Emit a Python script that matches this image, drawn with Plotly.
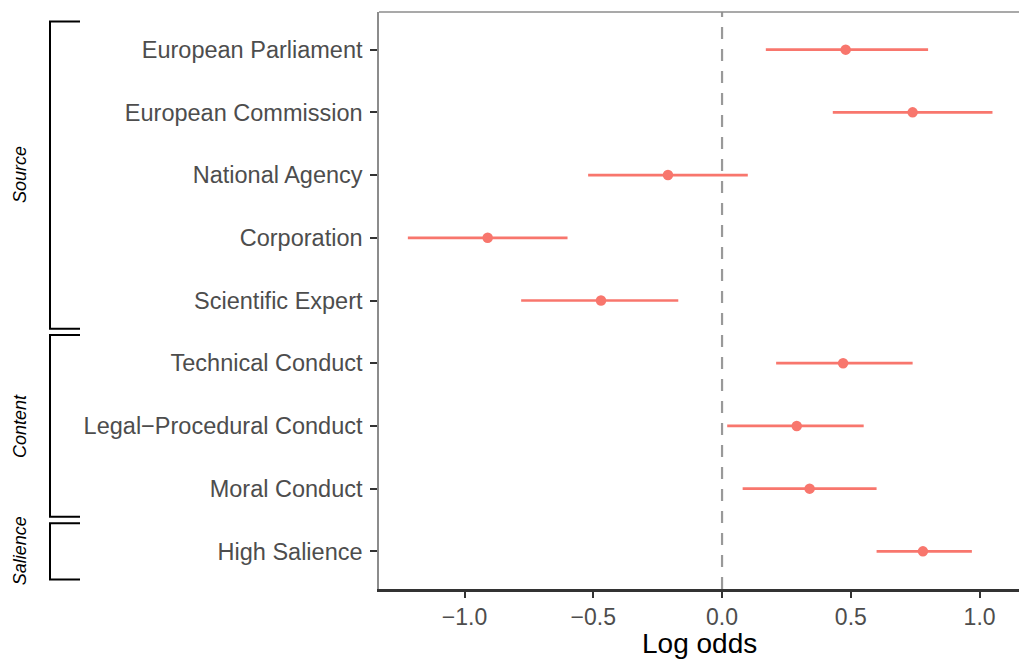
import plotly.graph_objects as go

# Predictors, listed top to bottom
labels = [
    "European Parliament",
    "European Commission",
    "National Agency",
    "Corporation",
    "Scientific Expert",
    "Technical Conduct",
    "Legal\u2212Procedural Conduct",
    "Moral Conduct",
    "High Salience",
]
estimate = [0.48, 0.74, -0.21, -0.91, -0.47, 0.47, 0.29, 0.34, 0.78]
ci_low = [0.17, 0.43, -0.52, -1.22, -0.78, 0.21, 0.02, 0.08, 0.60]
ci_high = [0.80, 1.05, 0.10, -0.60, -0.17, 0.74, 0.55, 0.60, 0.97]

# Groups of predictors (first and last label in each)
groups = ["Source", "Content", "Salience"]
group_first = ["European Parliament", "Technical Conduct", "High Salience"]
group_last = ["Scientific Expert", "Moral Conduct", "High Salience"]

x_ticks = [-1.0, -0.5, 0.0, 0.5, 1.0]
x_ticktext = ["\u22121.0", "\u22120.5", "0.0", "0.5", "1.0"]

COLOR = "#F8766D"
FONT = "Liberation Sans, Arial, sans-serif"

n = len(labels)
pos = {lab: n - 1 - i for i, lab in enumerate(labels)}  # category index on the y axis

fig = go.Figure()

# zero reference line
fig.add_shape(type="line", xref="x", yref="paper", x0=0, x1=0, y0=0, y1=1,
              line=dict(color="#999999", width=2.2, dash="12px,10px"), layer="below")

fig.add_trace(go.Scatter(
    x=estimate,
    y=labels,
    mode="markers",
    marker=dict(color=COLOR, size=10.5),
    error_x=dict(
        type="data",
        symmetric=False,
        array=[h - e for h, e in zip(ci_high, estimate)],
        arrayminus=[e - l for e, l in zip(estimate, ci_low)],
        color=COLOR,
        thickness=2.7,
        width=0,
    ),
    showlegend=False,
    cliponaxis=False,
))

# group brackets and labels at the left
pad = 0.45
bx_v = (50 - 379) / 640
bx_h = (80 - 379) / 640
lab_x = (20 - 379) / 640
for g, first, last in zip(groups, group_first, group_last):
    top = pos[first] + pad
    bot = pos[last] - pad
    fig.add_shape(type="path", xref="paper", yref="y",
                  path=f"M {bx_h},{top} L {bx_v},{top} L {bx_v},{bot} L {bx_h},{bot}",
                  line=dict(color="black", width=2))
    fig.add_annotation(xref="paper", yref="y", x=lab_x, y=(pos[first] + pos[last]) / 2,
                       text=f"<i>{g}</i>", textangle=-90, showarrow=False,
                       font=dict(family=FONT, size=18, color="black"),
                       xanchor="center", yanchor="middle")

# panel top border
fig.add_shape(type="line", xref="paper", yref="paper", x0=0, x1=1, y0=1, y1=1,
              line=dict(color="#8c8c8c", width=1.5))

# x-axis title
fig.add_annotation(xref="paper", yref="paper", x=0.5, y=-0.094,
                   text="Log odds", showarrow=False,
                   font=dict(family=FONT, size=28, color="black"),
                   xanchor="center", yanchor="middle", borderpad=0)

fig.update_layout(
    width=1019, height=661,
    margin=dict(l=379, r=0, t=12, b=72),
    plot_bgcolor="white", paper_bgcolor="white",
    font=dict(family=FONT),
    xaxis=dict(
        range=[-1.332, 1.153],
        tickvals=x_ticks, ticktext=x_ticktext,
        showgrid=False, zeroline=False,
        showline=True, linecolor="#333333", linewidth=2.5,
        ticks="outside", ticklen=6, tickwidth=2, tickcolor="#333333",
        tickfont=dict(family=FONT, size=23, color="#4D4D4D"),
    ),
    yaxis=dict(
        type="category",
        categoryorder="array", categoryarray=labels[::-1],
        range=[-0.6, n - 0.4],
        showgrid=False, zeroline=False,
        showline=True, linecolor="#8c8c8c", linewidth=1.5,
        ticks="outside", ticklen=7, tickwidth=2, tickcolor="#333333",
        tickfont=dict(family=FONT, size=23.5, color="#4D4D4D"),
        ticklabelstandoff=3,
    ),
)

fig.write_html("out.html")
